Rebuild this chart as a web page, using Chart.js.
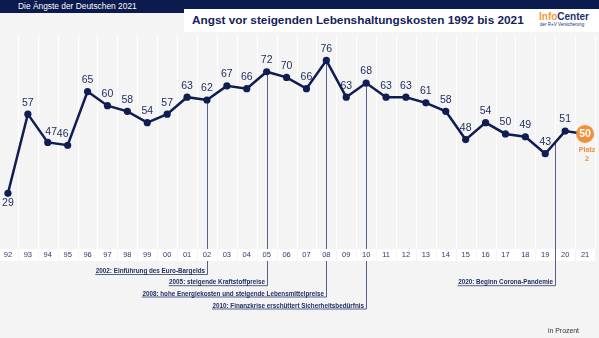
<!DOCTYPE html>
<html lang="de">
<head>
<meta charset="utf-8">
<title>Angst vor steigenden Lebenshaltungskosten 1992 bis 2021</title>
<script src="https://cdn.jsdelivr.net/npm/chart.js@4.4.1/dist/chart.umd.min.js"></script>
<style>
  body {
    margin: 0;
    width: 599px;
    height: 338px;
    overflow: hidden;
    position: relative;
    background: #f4f4f4;
    font-family: "Liberation Sans", Arial, Helvetica, sans-serif;
  }
  #chartBox { position: absolute; left: -2px; top: 0; width: 601px; height: 338px; }
  .top-bar { position: absolute; left: 0; top: 0; width: 599px; height: 9px; background: #0b1a4f; }
  .tab {
    position: absolute; left: 0; top: 0; width: 184px; height: 13px;
    background: #0b1a4f; color: #fff; font-size: 8.4px; line-height: 13px;
    padding-left: 18px; box-sizing: border-box; white-space: nowrap;
  }
  .title-box { position: absolute; left: 184px; top: 9px; width: 415px; height: 23px; background: #fff; }
  .title {
    position: absolute; left: 192px; top: 9px; height: 23px; line-height: 23px;
    font-size: 11.8px; font-weight: bold; color: #13225a; white-space: nowrap;
  }
  .logo { position: absolute; left: 539px; top: 12px; font-size: 10px; line-height: 10px; font-weight: bold; white-space: nowrap; }
  .logo .info { color: #f39a3c; }
  .logo .center { color: #1d3170; }
  .logo-sub { position: absolute; left: 540px; top: 23px; font-size: 4.5px; line-height: 4.5px; color: #1d3170; white-space: nowrap; }
  .unit { position: absolute; left: 548px; top: 327px; font-size: 6.9px; line-height: 8px; color: #333; white-space: nowrap; }
</style>
</head>
<body>
<div id="chartBox"><canvas id="angstChart" width="601" height="338"></canvas></div>
<div class="top-bar"></div>
<div class="tab">Die Ängste der Deutschen 2021</div>
<div class="title-box"></div>
<div class="title">Angst vor steigenden Lebenshaltungskosten 1992 bis 2021</div>
<div class="logo"><span class="info">Info</span><span class="center">Center</span></div>
<div class="logo-sub">der R+V Versicherung</div>
<div class="unit">in Prozent</div>

<script>
// Jahre (Achsenbeschriftung) und Werte in Prozent
const years = ['92', '93', '94', '95', '96', '97', '98', '99', '00', '01',
               '02', '03', '04', '05', '06', '07', '08', '09', '10', '11',
               '12', '13', '14', '15', '16', '17', '18', '19', '20', '21'];
const angstValues = [29, 57, 47, 46, 65, 60, 58, 54, 57, 63,
                     62, 67, 66, 72, 70, 66, 76, 63, 68, 63,
                     63, 61, 58, 48, 54, 50, 49, 43, 51, 50];

// Ereignisse unter der Achse
const eventYears = ['02', '05', '08', '10', '20'];
const eventTexts = [
    '2002: Einführung des Euro-Bargelds',
    '2005: steigende Kraftstoffpreise',
    '2008: hohe Energiekosten und steigende Lebensmittelpreise',
    '2010: Finanzkrise erschüttert Sicherheitsbedürfnis',
    '2020: Beginn Corona-Pandemie'
];
const rankLabel = ['Platz', '2'];

const NAVY = '#0f1d52';
const ORANGE = '#f0913a';
const LABEL_COLOR = '#1c2a5a';
const FONT = '"Liberation Sans", Arial, Helvetica, sans-serif';

const lastIdx = angstValues.length - 1;

// Gitter, Achsenzellen und Ereignislinien hinter der Kurve
const backdropPlugin = {
    id: 'backdrop',
    beforeDatasetsDraw(chart) {
        const { ctx, chartArea, scales } = chart;
        const x = scales.x;
        const y = scales.y;
        const step = x.getPixelForValue(1) - x.getPixelForValue(0);
        const cellTop = 249, cellH = 12;

        ctx.save();
        // weiße Trennlinien zwischen den Jahren
        ctx.strokeStyle = '#ffffff';
        ctx.lineWidth = 1;
        for (let i = 0; i <= years.length; i++) {
            const bx = Math.round(x.getPixelForValue(i) - step / 2) + 0.5;
            ctx.beginPath();
            ctx.moveTo(bx, chartArea.top);
            ctx.lineTo(bx, cellTop);
            ctx.stroke();
        }

        // Ereignislinien
        const rows = [274.5, 285.7, 297, 309, 285.7];
        ctx.strokeStyle = '#55608c';
        ctx.fillStyle = '#1b2a5e';
        ctx.font = 'bold 6.3px ' + FONT;
        ctx.textAlign = 'right';
        ctx.textBaseline = 'middle';
        eventYears.forEach((yr, k) => {
            const idx = years.indexOf(yr);
            let lx, ly;
            if (yr === '20') {
                // Beginn 2020: zwischen den Messpunkten 19 und 20
                lx = (x.getPixelForValue(idx - 1) + x.getPixelForValue(idx)) / 2;
                ly = y.getPixelForValue((angstValues[idx - 1] + angstValues[idx]) / 2);
            } else {
                lx = x.getPixelForValue(idx);
                ly = y.getPixelForValue(angstValues[idx]);
            }
            lx = Math.round(lx) + 0.5;
            const uy = rows[k];
            const tw = ctx.measureText(eventTexts[k]).width;
            ctx.lineWidth = 1;
            ctx.beginPath();
            ctx.moveTo(lx, ly);
            ctx.lineTo(lx, uy);
            ctx.lineTo(lx - 3 - tw, uy);
            ctx.stroke();
            ctx.fillText(eventTexts[k], lx - 2.5, uy - 3.2);
        });

        // Jahreszellen
        ctx.textAlign = 'center';
        ctx.font = '7.5px ' + FONT;
        years.forEach((yr, i) => {
            const cx = x.getPixelForValue(i);
            const left = Math.round(cx - step / 2) + 1;
            ctx.fillStyle = '#ffffff';
            ctx.fillRect(left, cellTop, Math.round(step) - 1, cellH);
            ctx.fillStyle = '#2b3a6b';
            ctx.fillText(yr, cx, cellTop + cellH / 2);
        });
        ctx.restore();
    }
};

// Wertbeschriftungen an den Punkten
const valueLabelPlugin = {
    id: 'valueLabels',
    afterDatasetsDraw(chart) {
        const { ctx } = chart;
        const pts = chart.getDatasetMeta(0).data;
        ctx.save();
        ctx.textAlign = 'center';
        ctx.textBaseline = 'middle';
        pts.forEach((pt, i) => {
            const v = angstValues[i];
            if (i === lastIdx) {
                ctx.fillStyle = '#ffffff';
                ctx.font = 'bold 10.5px ' + FONT;
                ctx.fillText(v, pt.x, pt.y + 0.5);
                ctx.fillStyle = ORANGE;
                ctx.font = 'bold 7.2px ' + FONT;
                ctx.fillText(rankLabel[0], pt.x + 2, pt.y + 16.5);
                ctx.fillText(rankLabel[1], pt.x + 2, pt.y + 25);
                return;
            }
            let dx = 0, dy = -11.5;
            if (i === 0) dy = 10;
            if (i === 2) { dx = 3.4; dy = -10.6; }
            if (i === 3) { dx = -5; }
            ctx.fillStyle = LABEL_COLOR;
            ctx.font = '10.5px ' + FONT;
            ctx.fillText(v, pt.x + dx, pt.y + dy);
        });
        ctx.restore();
    }
};

new Chart(document.getElementById('angstChart'), {
    type: 'line',
    data: {
        labels: years,
        datasets: [{
            data: angstValues,
            borderColor: NAVY,
            borderWidth: 2.5,
            tension: 0,
            clip: false,
            pointRadius: angstValues.map((v, i) => i === lastIdx ? 9 : 3.6),
            pointHoverRadius: angstValues.map((v, i) => i === lastIdx ? 9 : 3.6),
            pointBackgroundColor: angstValues.map((v, i) => i === lastIdx ? ORANGE : NAVY),
            pointBorderWidth: 0
        }]
    },
    options: {
        responsive: false,
        animation: false,
        devicePixelRatio: 1,
        layout: { autoPadding: false, padding: { left: 0, right: 4, top: 35, bottom: 91 } },
        plugins: {
            legend: { display: false },
            tooltip: { enabled: false }
        },
        scales: {
            x: { display: false, offset: true },
            y: { display: false, min: 10, max: 85 }
        }
    },
    plugins: [backdropPlugin, valueLabelPlugin]
});
</script>
</body>
</html>
